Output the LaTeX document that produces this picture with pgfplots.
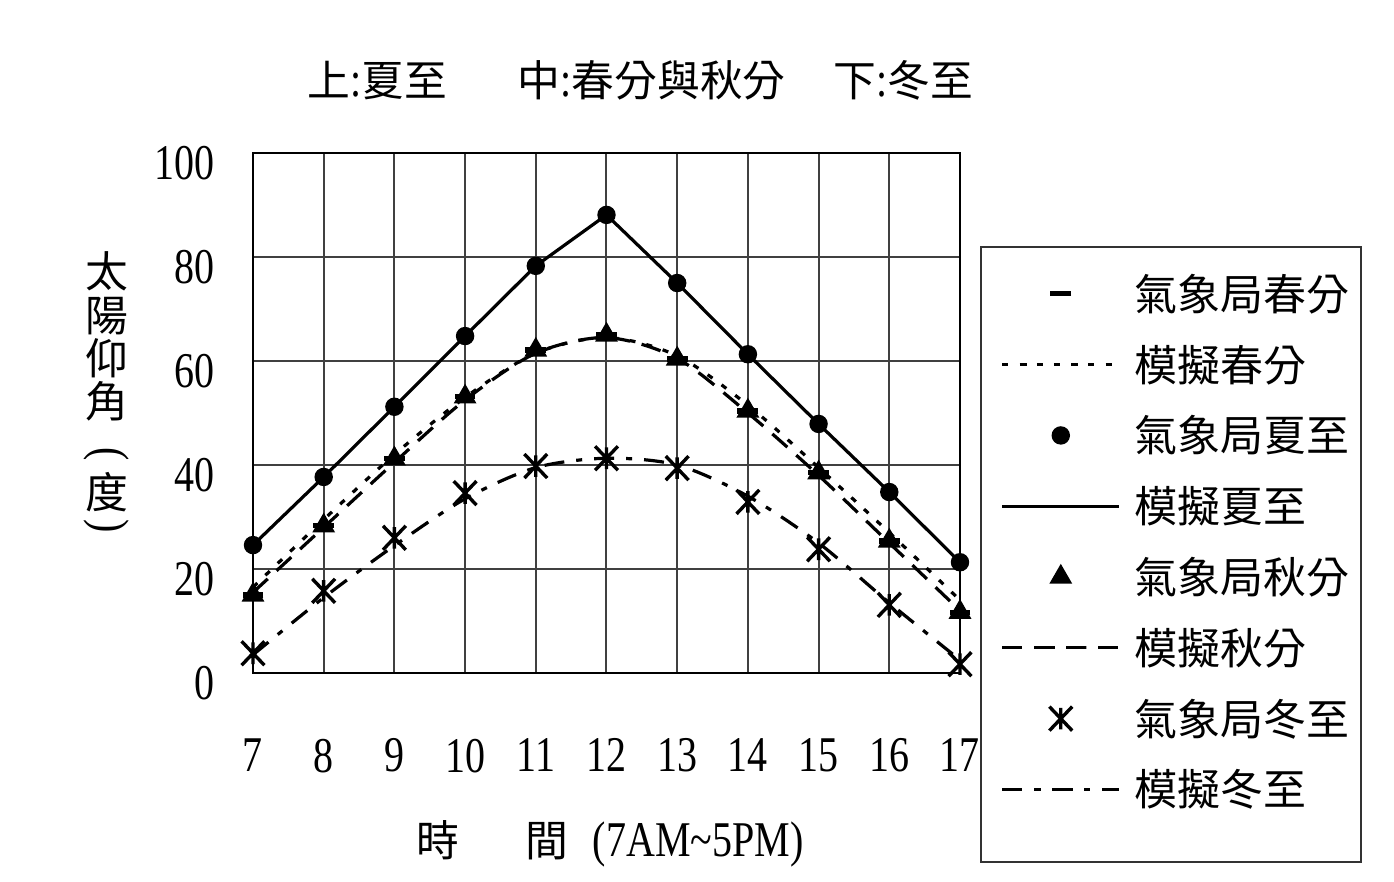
\documentclass[border=0pt]{standalone}
\usepackage{fontspec}
\setmainfont{Liberation Serif}
\newfontfamily\tnr[FakeStretch=0.8]{Liberation Serif}
\newfontfamily\cjk{Noto Sans CJK TC}
\usepackage{pgfplots}
\pgfplotsset{compat=1.18}
\pgfdeclareplotmark{xstar}{%
  \pgfpathmoveto{\pgfqpoint{-0.95\pgfplotmarksize}{-\pgfplotmarksize}}%
  \pgfpathlineto{\pgfqpoint{0.95\pgfplotmarksize}{\pgfplotmarksize}}%
  \pgfpathmoveto{\pgfqpoint{-0.95\pgfplotmarksize}{\pgfplotmarksize}}%
  \pgfpathlineto{\pgfqpoint{0.95\pgfplotmarksize}{-\pgfplotmarksize}}%
  \pgfpathmoveto{\pgfqpoint{0pt}{-0.9\pgfplotmarksize}}%
  \pgfpathlineto{\pgfqpoint{0pt}{0.9\pgfplotmarksize}}%
  \pgfusepathqstroke}
\begin{document}
\begin{tikzpicture}
\path[use as bounding box] (-63.25pt,-52pt) rectangle (285.25pt,168.25pt);
\begin{axis}[
 scale only axis, width=176.75pt, height=130pt,
 at={(0pt,0pt)}, anchor=south west,
 xmin=7, xmax=17, ymin=0, ymax=100,
 xtick={7,...,17}, ytick={0,20,...,100},
 major tick length=0pt,
 grid=major, major grid style={black!75, line width=0.5pt},
 axis line style={black, line width=0.6pt},
 tick label style={font=\tnr\fontsize{12.5}{13}\selectfont},
 /pgf/number format/assume math mode=true,
 xticklabel style={anchor=north, inner sep=0pt, yshift=-16.25pt},
 yticklabel style={anchor=east, inner sep=0pt, xshift=-9.5pt, yshift=-2.5pt},
 clip=false,
 legend style={at={(axis description cs:1.05658,0.7988)}, anchor=north west,
   draw=none, fill=none, inner sep=0pt, row sep=0pt, column sep=3.5pt,
   nodes={inner sep=0pt, text height=12.95pt, text depth=4.75pt,
          font=\cjk\fontsize{10.75}{11}\selectfont}},
 legend cell align=left,
 legend image code/.code={\draw[mark repeat=2,mark phase=2,#1] plot coordinates {(0pt,0pt)(14.6pt,0pt)(29.2pt,0pt)};},
]
% spring observed
\addplot[only marks, mark=-, mark size=2.6pt, mark options={line width=1.3pt}] coordinates {
(7,15)(8,28.3)(9,41.2)(10,53.1)(11,62.1)(12,65)(13,60.4)(14,50.4)(15,38.5)(16,25.4)(17,11.7)};
\addlegendentry{氣象局春分}
% spring simulated
\addplot[black, line width=0.8pt, smooth, dash pattern=on 1.5pt off 2.8pt] coordinates {
(7,16.5)(8,29.5)(9,42)(10,53)(11,61.5)(12,64.5)(13,61)(14,51.5)(15,39.5)(16,27)(17,14)};
\addlegendentry{模擬春分}
% summer observed
\addplot[only marks, mark=*, mark size=2.1pt] coordinates {
(7,24.6)(8,37.7)(9,51.2)(10,64.8)(11,78.3)(12,88.1)(13,75.0)(14,61.3)(15,47.9)(16,34.8)(17,21.3)};
\addlegendentry{氣象局夏至}
% summer simulated
\addplot[black, line width=0.8pt, sharp plot] coordinates {
(7,24.6)(8,37.7)(9,51.2)(10,64.8)(11,78.3)(12,88.1)(13,75.0)(14,61.3)(15,47.9)(16,34.8)(17,21.3)};
\addlegendentry{模擬夏至}
% autumn observed
\addplot[only marks, mark=triangle*, mark size=2.9pt] coordinates {
(7,15)(8,28.3)(9,41.2)(10,53.1)(11,62.1)(12,65)(13,60.4)(14,50.4)(15,38.5)(16,25.4)(17,11.7)};
\addlegendentry{氣象局秋分}
% autumn simulated
\addplot[black, line width=0.8pt, smooth, dash pattern=on 5pt off 3pt] coordinates {
(7,15.5)(8,28)(9,40.5)(10,52.5)(11,61.5)(12,64.5)(13,60.5)(14,50)(15,38)(16,25)(17,12)};
\addlegendentry{模擬秋分}
% winter observed
\addplot[only marks, mark=xstar, mark size=3pt, mark options={line width=0.85pt}] coordinates {
(7,3.8)(8,15.8)(9,26)(10,34.6)(11,39.8)(12,41.3)(13,39.4)(14,32.9)(15,23.8)(16,13.1)(17,1.7)};
\addlegendentry{氣象局冬至}
% winter simulated
\addplot[black, line width=0.8pt, smooth, dash pattern=on 5pt off 3pt on 1.5pt off 3pt] coordinates {
(7,3.5)(8,14.5)(9,24.5)(10,33.5)(11,39.5)(12,41.3)(13,40)(14,34)(15,25)(16,13.5)(17,2.5)};
\addlegendentry{模擬冬至}
\end{axis}
\draw[line width=0.5pt, black!80] (182pt,106.5pt) rectangle (277pt,-47.25pt);
% title
\node[anchor=base west, inner sep=0pt, font=\cjk\fontsize{10.7}{11}\selectfont] at (13.5pt,144.25pt) {上{\tnr\fontsize{12.5}{13}\selectfont:}夏至};
\node[anchor=base west, inner sep=0pt, font=\cjk\fontsize{10.7}{11}\selectfont] at (66pt,144.25pt) {中{\tnr\fontsize{12.5}{13}\selectfont:}春分與秋分};
\node[anchor=base west, inner sep=0pt, font=\cjk\fontsize{10.7}{11}\selectfont] at (145pt,144.25pt) {下{\tnr\fontsize{12.5}{13}\selectfont:}冬至};
% x label
\node[anchor=base west, inner sep=0pt, font=\cjk\fontsize{10.7}{11}\selectfont] at (40.75pt,-45.75pt) {時};
\node[anchor=base west, inner sep=0pt, font=\cjk\fontsize{10.7}{11}\selectfont] at (68pt,-45.75pt) {間};
\node[anchor=base west, inner sep=0pt, font=\tnr\fontsize{12.5}{13}\selectfont] at (84.75pt,-45.75pt) {(7AM\char`\~5PM)};
% y label
\foreach \c/\y in {太/100.5, 陽/89.5, 仰/78.75, 角/68, 度/45.25}{
  \node[anchor=base, inner sep=0pt, font=\cjk\fontsize{10.7}{11}\selectfont] at (-36.5pt,\y pt-4.07pt) {\c};
}
\node[rotate=-90, inner sep=0pt, font=\tnr\fontsize{12.5}{13}\selectfont] at (-36.5pt,54.75pt) {(};
\node[rotate=-90, inner sep=0pt, font=\tnr\fontsize{12.5}{13}\selectfont] at (-36.5pt,36.75pt) {)};
\end{tikzpicture}
\end{document}
